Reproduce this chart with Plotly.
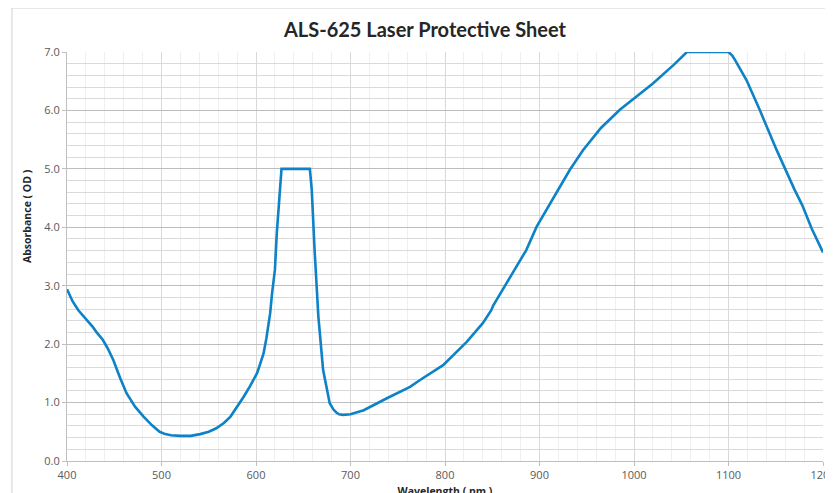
import plotly.graph_objects as go

wavelength = [400, 406, 412, 417, 422, 427, 431, 435, 438, 443, 449, 456, 463, 472, 481, 490,
              498, 504, 510, 520, 531, 541, 550, 558, 566, 573, 580, 587, 594, 601, 604, 608,
              611, 615, 617, 620, 622, 625, 627, 657, 659, 662, 666, 671, 675, 678, 682, 685,
              688, 692, 700, 714, 738, 763, 774, 798, 823, 840, 849, 851, 865, 886, 897, 915,
              932, 946, 965, 985, 1000, 1020, 1042, 1050, 1056, 1100, 1104, 1107, 1112, 1119,
              1133, 1151, 1170, 1178, 1188, 1195, 1200]
absorbance = [2.94, 2.73, 2.58, 2.49, 2.40, 2.30, 2.21, 2.13, 2.07, 1.93, 1.73, 1.43, 1.16, 0.93,
              0.76, 0.61, 0.50, 0.46, 0.44, 0.43, 0.43, 0.46, 0.50, 0.56, 0.65, 0.76, 0.92, 1.10,
              1.29, 1.50, 1.64, 1.84, 2.10, 2.53, 2.87, 3.27, 3.90, 4.64, 5.00, 5.00, 4.64, 3.61,
              2.47, 1.56, 1.20, 0.99, 0.88, 0.83, 0.80, 0.79, 0.80, 0.87, 1.07, 1.27, 1.39, 1.64,
              2.04, 2.36, 2.58, 2.66, 3.04, 3.61, 4.01, 4.52, 4.98, 5.32, 5.70, 6.01, 6.21, 6.46,
              6.78, 6.90, 7.00, 7.00, 6.94, 6.86, 6.72, 6.52, 6.01, 5.32, 4.64, 4.38, 3.98, 3.74,
              3.57]

x_ticks = [400, 500, 600, 700, 800, 900, 1000, 1100, 1200]
y_ticks = [0, 1, 2, 3, 4, 5, 6, 7]
y_tick_labels = ["0.0", "1.0", "2.0", "3.0", "4.0", "5.0", "6.0", "7.0"]

fig = go.Figure()
fig.add_trace(go.Scatter(x=wavelength, y=absorbance, mode="lines",
                         line=dict(color="#0d82c6", width=2.6), showlegend=False))

tick_font = dict(family="Open Sans, sans-serif", size=11, color="#595959")
title_font = dict(family="Open Sans, sans-serif", size=10.5, color="#262626")

fig.update_layout(
    width=833, height=493,
    margin=dict(l=59, r=18, t=44, b=40, autoexpand=False),
    paper_bgcolor="white", plot_bgcolor="white",
    title=dict(text="<b>ALS-625 Laser Protective Sheet</b>", x=417 / 833, xref="container",
               y=1 - 22 / 493, yref="container", xanchor="center", yanchor="middle",
               automargin=False,
               font=dict(family="Lato, sans-serif", size=20, color="#262626")),
    xaxis=dict(range=[400, 1200], tickmode="array", tickvals=x_ticks,
               ticks="outside", ticklen=4, tickcolor="#bfbfbf",
               showgrid=True, gridcolor="#d9d9d9", gridwidth=1,
               minor=dict(dtick=20, showgrid=True, gridcolor="#efefef", gridwidth=1),
               showline=True, linecolor="#bfbfbf", linewidth=1,
               tickfont=tick_font, zeroline=False, automargin=False,
               ticklabeloverflow="allow",
               title=dict(text="<b>Wavelength ( nm )</b>", font=title_font, standoff=6)),
    yaxis=dict(range=[0, 7], tickmode="array", tickvals=y_ticks, ticktext=y_tick_labels,
               ticks="outside", ticklen=4, tickcolor="#bfbfbf",
               showgrid=True, gridcolor="#bdbdbd", gridwidth=1,
               minor=dict(dtick=0.2, showgrid=True, gridcolor="#dadada", gridwidth=1),
               showline=True, linecolor="#bfbfbf", linewidth=1,
               tickfont=tick_font, zeroline=False, automargin=False),
    annotations=[
        dict(text="<b>Absorbance ( OD )</b>", xref="paper", yref="paper",
             x=-0.0529, y=0.599, textangle=-90, showarrow=False,
             xanchor="center", yanchor="middle", font=title_font),
    ],
    shapes=[
        dict(type="line", xref="paper", yref="paper", x0=-0.0728, x1=-0.0728, y0=1.1076, y1=-0.1,
             line=dict(color="#d0d0d0", width=1)),
        dict(type="line", xref="paper", yref="paper", x0=-0.0728, x1=1.03, y0=1.1076, y1=1.1076,
             line=dict(color="#d0d0d0", width=1)),
    ],
)

fig.write_html("out.html")
